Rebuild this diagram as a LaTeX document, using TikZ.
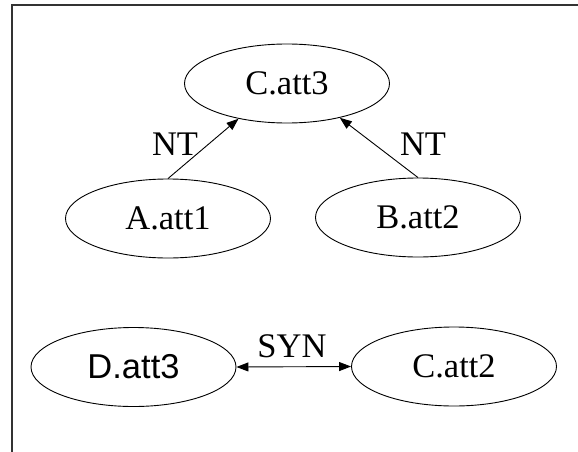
\documentclass[tikz,border=0pt]{standalone}
\usepackage{fontspec}
\setmainfont{Liberation Serif}
\newfontfamily\arialfont{Liberation Sans}
\usetikzlibrary{shapes.geometric,arrows.meta}
\tikzset{
  attr/.style={ellipse, draw, line width=0.9pt, inner sep=0pt,
    minimum width=205pt, minimum height=79pt,
    font=\fontsize{34.5}{40}\selectfont},
  lbl/.style={inner sep=0pt, font=\fontsize{34.5}{40}\selectfont},
  rel/.style={line width=0.9pt, -{Triangle[length=12pt,width=9pt]}},
  birel/.style={line width=0.9pt, {Triangle[length=12pt,width=9pt]}-{Triangle[length=12pt,width=9pt]}},
  frame/.style={line width=1.2pt, black!80}
}
\begin{document}
\begin{tikzpicture}[x=1pt, y=-1pt]
\useasboundingbox (0,0) rectangle (578,452);
% partial frame: top and left edges
\coordinate (ftr) at (578,5);
\coordinate (ftl) at (12,5);
\coordinate (fbl) at (12,452);
\draw[frame] (ftr) -- (ftl) -- (fbl);

% attribute nodes
\node[attr] (C3) at (287,83.5) {C.att3};
\node[attr] (A1) at (168,218.5) {A.att1};
\node[attr] (B2) at (418,217.5) {B.att2};
\node[attr, font=\arialfont\fontsize{34.5}{40}\selectfont] (D3) at (133.5,367) {D.att3};
\node[attr] (C2) at (454,366.5) {C.att2};

% relations
\draw[rel] (A1.north) -- (C3.-144);
\draw[rel] (B2.north) -- (C3.-33);
\draw[birel] (D3.east) -- (C2.west);

% relation labels
\node[lbl] (nt1) at (175,144) {NT};
\node[lbl] (nt2) at (423,144) {NT};
\node[lbl] (syn) at (292,346) {SYN};
\end{tikzpicture}
\end{document}
